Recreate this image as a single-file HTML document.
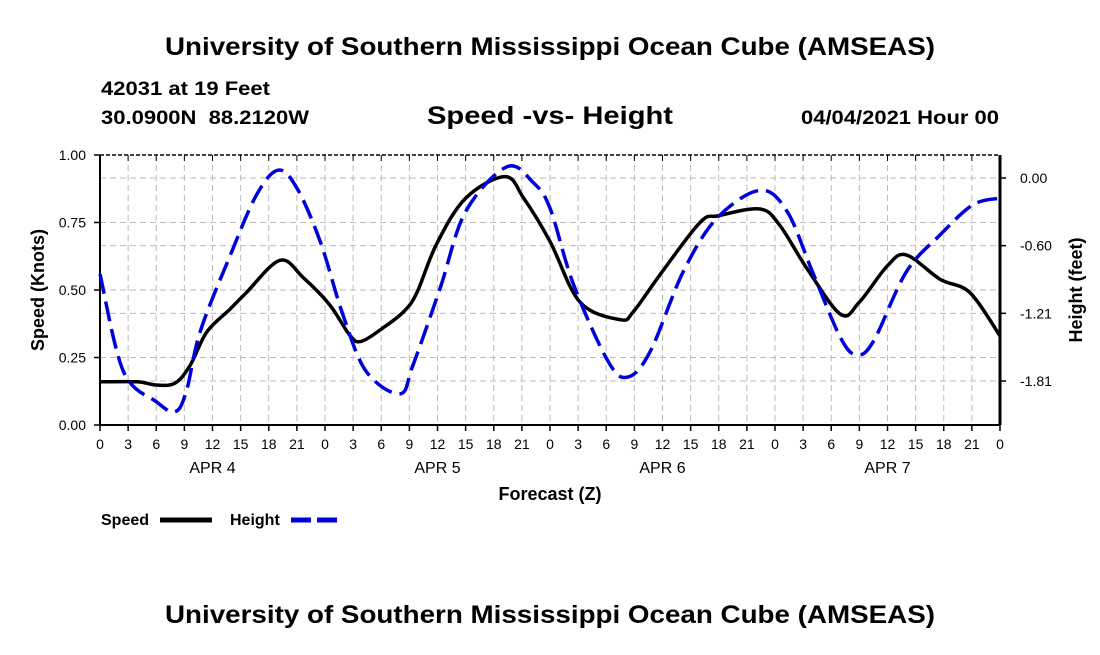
<!DOCTYPE html>
<html><head><meta charset="utf-8"><style>
body{margin:0;background:#fff;width:1100px;height:650px;overflow:hidden;font-family:"Liberation Sans",sans-serif}
</style></head><body>
<svg id="chart" width="1100" height="650" xmlns="http://www.w3.org/2000/svg" font-family="Liberation Sans, sans-serif" font-weight="bold">
<text x="165" y="55" font-size="25" textLength="770" lengthAdjust="spacingAndGlyphs">University of Southern Mississippi Ocean Cube (AMSEAS)</text>
<text x="101" y="95" font-size="19" textLength="169" lengthAdjust="spacingAndGlyphs">42031 at 19 Feet</text>
<text x="101" y="124" font-size="19" textLength="208" lengthAdjust="spacingAndGlyphs" xml:space="preserve">30.0900N  88.2120W</text>
<text x="427" y="124" font-size="25" textLength="246" lengthAdjust="spacingAndGlyphs">Speed -vs- Height</text>
<text x="801" y="124" font-size="19" textLength="198" lengthAdjust="spacingAndGlyphs">04/04/2021 Hour 00</text>
<g id="grid"></g>
<g id="axes"></g>
<g id="series"></g>
<text x="550" y="500" text-anchor="middle" font-size="18">Forecast (Z)</text>
<text transform="translate(44,290) rotate(-90)" text-anchor="middle" font-size="18">Speed (Knots)</text>
<text transform="translate(1082,290) rotate(-90)" text-anchor="middle" font-size="18">Height (feet)</text>
<g><text x="101" y="525" font-size="16">Speed</text><line x1="160" y1="520" x2="212" y2="520" stroke="#000" stroke-width="5"/></g>
<g><text x="230" y="525" font-size="16">Height</text><line x1="291" y1="520" x2="343" y2="520" stroke="#0000dd" stroke-width="5" stroke-dasharray="20,6"/></g>
<text x="165" y="623" font-size="25" textLength="770" lengthAdjust="spacingAndGlyphs">University of Southern Mississippi Ocean Cube (AMSEAS)</text>
</svg>
<script>
const speedHours=[0,4,6,8,9.6,11.4,13.9,15.6,19.2,21.7,24.5,26.7,27.9,30.2,32.4,33.8,35.9,39,43.2,45.2,48,51.2,55.5,56.9,59.7,64,66,70.4,72.5,75.4,79,81,84,86,89.6,92.8,96];
const speedValues=[0.16,0.16,0.148,0.155,0.22,0.345,0.43,0.49,0.61,0.545,0.445,0.33,0.31,0.36,0.42,0.49,0.67,0.84,0.92,0.84,0.68,0.455,0.39,0.42,0.555,0.75,0.775,0.80,0.74,0.58,0.41,0.455,0.59,0.63,0.54,0.49,0.33];
const heightHours=[0,2.5,6,8,9.2,10.7,13.9,16.7,19,21,23.5,25.9,28.4,32,33.4,36.3,39,43.4,46.2,48,50.5,54.2,56.3,58.7,62.2,65.8,70.4,73.3,76,79,80.7,82.5,86,89.6,93.1,96];
const heightValues=[-0.86,-1.73,-2.0,-2.09,-1.91,-1.37,-0.69,-0.15,0.07,-0.09,-0.57,-1.22,-1.73,-1.93,-1.67,-0.98,-0.30,0.10,-0.04,-0.27,-0.95,-1.64,-1.78,-1.55,-0.84,-0.36,-0.11,-0.30,-0.84,-1.43,-1.58,-1.46,-0.84,-0.51,-0.24,-0.18];
const speedTicks=[0,0.25,0.5,0.75,1.0];
const speedTickLabels=["0.00","0.25","0.50","0.75","1.00"];
const heightTicks=[0,-0.605,-1.21,-1.815];
const heightTickLabels=["0.00","-0.60","-1.21","-1.81"];
const hourTicks=[0,3,6,9,12,15,18,21,24,27,30,33,36,39,42,45,48,51,54,57,60,63,66,69,72,75,78,81,84,87,90,93,96];
const dayLabels=["APR 4","APR 5","APR 6","APR 7"];

const X0=100,X1=1000,Y0=155,Y1=425;
const xS=h=>X0+h*(X1-X0)/96;
const ySpeed=v=>Y1-v*(Y1-Y0);
const yHeight=v=>178-v*(203/1.815);
const NS="http://www.w3.org/2000/svg";
function mk(tag,attrs,parent){const e=document.createElementNS(NS,tag);for(const k in attrs)e.setAttribute(k,attrs[k]);parent.appendChild(e);return e;}
const grid=document.getElementById('grid'),axes=document.getElementById('axes'),series=document.getElementById('series');

hourTicks.forEach((h,i)=>{
  const x=xS(h);
  if(i>0&&i<hourTicks.length-1){const g=mk('line',{x1:x,y1:Y0,x2:x,y2:Y1,stroke:'#bbb','stroke-width':1,'stroke-dasharray':'6,4'},grid);
  
  }
  mk('line',{x1:x,y1:Y1,x2:x,y2:Y1+6,stroke:'#000','stroke-width':1.5},axes);
  mk('line',{x1:x,y1:Y0,x2:x,y2:Y0+6,stroke:'#000','stroke-width':1},axes);
  const t=mk('text',{x:x,y:Y1+24,'text-anchor':'middle','font-size':14,'font-weight':'normal'},axes);
  t.textContent=String(h%24);
  
  
});
dayLabels.forEach((d,i)=>{
  const t=mk('text',{x:xS(i*24+12),y:473,'text-anchor':'middle','font-size':16,'font-weight':'normal'},axes);
  t.textContent=d;
  
  
});
speedTicks.forEach((v,i)=>{
  const y=ySpeed(v);
  if(i>0&&i<speedTicks.length-1){const g=mk('line',{x1:X0,y1:y,x2:X1,y2:y,stroke:'#bbb','stroke-width':1,'stroke-dasharray':'6,4'},grid);
  
  }
  mk('line',{x1:X0-6,y1:y,x2:X0,y2:y,stroke:'#000','stroke-width':1.5},axes);
  const t=mk('text',{x:X0-14,y:y+5,'text-anchor':'end','font-size':14,'font-weight':'normal'},axes);
  t.textContent=speedTickLabels[i];
  
  
});
heightTicks.forEach((v,i)=>{
  const y=yHeight(v);
  const g=mk('line',{x1:X0,y1:y,x2:X1,y2:y,stroke:'#bbb','stroke-width':1,'stroke-dasharray':'6,4'},grid);
  
  
  mk('line',{x1:X1,y1:y,x2:X1+6,y2:y,stroke:'#000','stroke-width':1.5},axes);
  const t=mk('text',{x:X1+20,y:y+5,'text-anchor':'start','font-size':14,'font-weight':'normal'},axes);
  t.textContent=heightTickLabels[i];
  
  
});
mk('line',{x1:X0,y1:Y0,x2:X1,y2:Y0,stroke:'#000','stroke-width':1.5,'stroke-dasharray':'4,2'},axes);
mk('line',{x1:X0,y1:Y1,x2:X1,y2:Y1,stroke:'#000','stroke-width':2},axes);
mk('line',{x1:X0,y1:Y0,x2:X0,y2:Y1,stroke:'#000','stroke-width':2},axes);
mk('line',{x1:X1,y1:Y0,x2:X1,y2:Y1,stroke:'#000','stroke-width':3},axes);

function pathFor(hs,vs,yf){
  const p=hs.map((h,i)=>[xS(h),yf(vs[i])]);
  let d='M'+p[0][0]+','+p[0][1];
  for(let i=0;i<p.length-1;i++){
    const a=p[Math.max(0,i-1)],b=p[i],c=p[i+1],e=p[Math.min(p.length-1,i+2)];
    const c1=[b[0]+(c[0]-a[0])/6,b[1]+(c[1]-a[1])/6],c2=[c[0]-(e[0]-b[0])/6,c[1]-(e[1]-b[1])/6];
    d+=` C${c1[0]},${c1[1]} ${c2[0]},${c2[1]} ${c[0]},${c[1]}`;
  }
  return d;
}
const sp=mk('path',{d:pathFor(speedHours,speedValues,ySpeed),fill:'none',stroke:'#000','stroke-width':3.5},series);


const hp=mk('path',{d:pathFor(heightHours,heightValues,yHeight),fill:'none',stroke:'#0000dd','stroke-width':3.5,'stroke-dasharray':'20,8'},series);


</script>
</body></html>
